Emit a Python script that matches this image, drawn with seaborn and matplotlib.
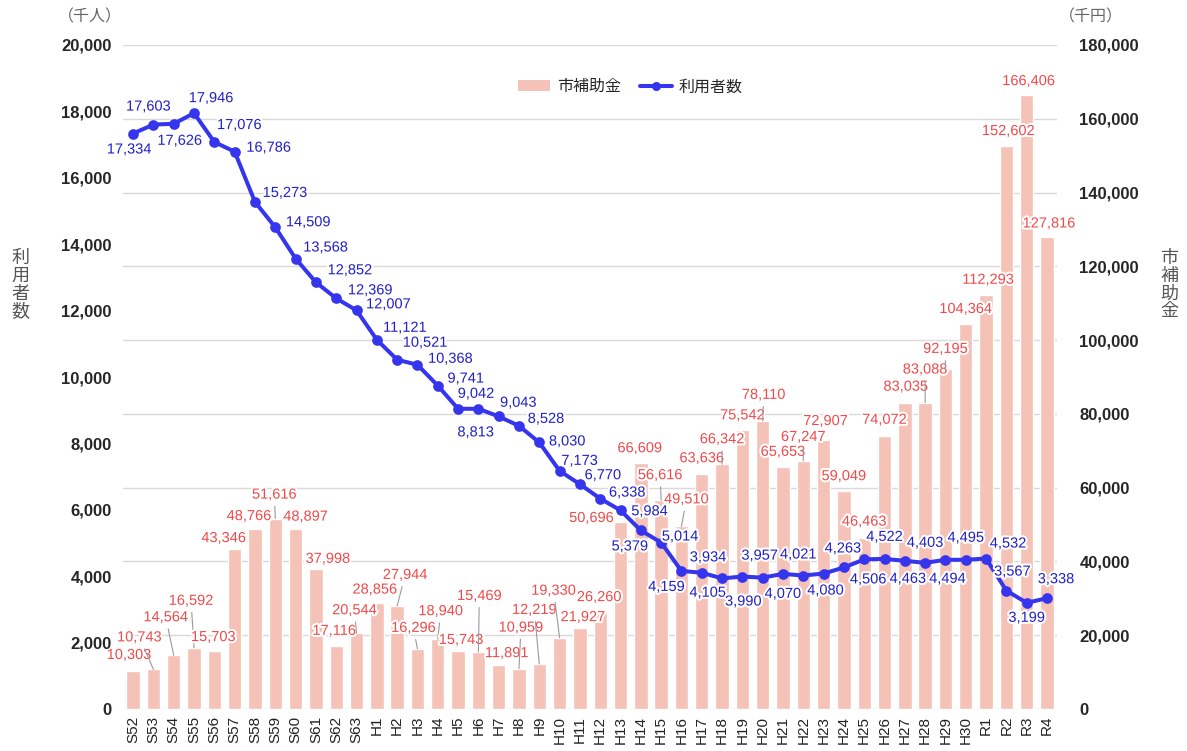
import matplotlib
matplotlib.use("Agg")
import matplotlib.pyplot as plt
import matplotlib.patheffects as pe
from matplotlib.patches import Patch
from matplotlib.lines import Line2D
import seaborn as sns

# ── Data ──────────────────────────────────────────────────────────────────
years = ["S52", "S53", "S54", "S55", "S56", "S57", "S58", "S59", "S60", "S61",
         "S62", "S63", "H1", "H2", "H3", "H4", "H5", "H6", "H7", "H8", "H9",
         "H10", "H11", "H12", "H13", "H14", "H15", "H16", "H17", "H18", "H19",
         "H20", "H21", "H22", "H23", "H24", "H25", "H26", "H27", "H28", "H29",
         "H30", "R1", "R2", "R3", "R4"]

subsidy = [10303, 10743, 14564, 16592, 15703, 43346, 48766, 51616, 48897, 37998,
           17116, 20544, 28856, 27944, 16296, 18940, 15743, 15469, 11891, 10959,
           12219, 19330, 21927, 26260, 50696, 66609, 56616, 49510, 63636, 66342,
           75542, 78110, 65653, 67247, 72907, 59049, 46463, 74072, 83035, 83088,
           92195, 104364, 112293, 152602, 166406, 127816]

users = [17334, 17603, 17626, 17946, 17076, 16786, 15273, 14509, 13568, 12852,
         12369, 12007, 11121, 10521, 10368, 9741, 9042, 9043, 8813, 8528,
         8030, 7173, 6770, 6338, 5984, 5379, 5014, 4159, 4105, 3934,
         3990, 3957, 4070, 4021, 4080, 4263, 4506, 4522, 4463, 4403,
         4494, 4495, 4532, 3567, 3199, 3338]

# label placement (pixels, image direction: +dy = down)
bar_off = [(-4, -16), (-14, -32), (-8, -38), (-3, -47), (-1, -14), (-11, -11),
           (-6, -13), (-1, -24), (10, -12), (12, -10), (-2, -15), (-2, -23),
           (-2, -13), (8, -31), (-4, -21), (3, -28), (3, -11), (1, -56),
           (8, -12), (2, -41), (-5, -54), (-6, -47), (3, -11), (-1, -15),
           (-29, -4), (-1, -15), (-1, -25), (5, -27), (0, -16), (0, -25),
           (0, -15), (1, -26), (0, -15), (0, -24), (2, -19), (0, -15),
           (0, -16), (0, -16), (1, -16), (0, -33), (0, -20), (0, -15),
           (2, -15), (2, -15), (2, -14), (2, -14)]

line_off = [(-4, 16), (-5, -18), (6, 17), (17, -15), (25, -17), (34, -4),
            (30, -9), (33, -5), (30, -11), (34, -12), (34, -8), (32, -6),
            (28, -12), (28, -17), (33, -6), (28, -7), (18, -15), (40, -6),
            (-23, 16), (27, -7), (28, -1), (20, -10), (23, -9), (27, -6),
            (29, 1), (-11, 16), (19, -6), (-15, 16), (6, 20), (-14, -21),
            (1, 25), (-3, -22), (0, 20), (-5, -21), (2, 17), (-1, -19),
            (4, 20), (0, -22), (3, 18), (0, -20), (2, 19), (0, -22),
            (22, -15), (6, -19), (0, 15), (9, -19)]

BAR_C = "#F4C2B6"
BAR_TXT = "#F04A4A"
LINE_C = "#3535EE"
LINE_TXT = "#2020C8"

sns.set_style("white")
plt.rcParams["font.family"] = ["Liberation Sans", "Noto Sans CJK JP"]

fig = plt.figure(figsize=(11.87, 7.51), dpi=100)
ax = fig.add_axes([0.1036, 0.0559, 0.787, 0.8842])
ax2 = ax.twinx()

# bars → right axis
sns.barplot(x=years, y=subsidy, ax=ax2, color=BAR_C, saturation=1,
            width=0.66, zorder=2)
ax2.set_ylim(0, 180000)
ax2.set_yticks(range(0, 180001, 20000))
ax2.set_yticklabels([f"{v:,}" for v in range(0, 180001, 20000)],
                    fontsize=12, fontweight="bold")
ax2.grid(axis="y", color="#D9D9D9", lw=1)
ax2.set_axisbelow(True)
ax2.tick_params(axis="y", length=0, pad=16)
ax2.set_ylabel("")

# line → left axis (drawn on top)
ax.set_zorder(ax2.get_zorder() + 1)
ax.patch.set_visible(False)
sns.pointplot(x=years, y=users, ax=ax, color=LINE_C, markers="o",
              linestyles="-", errorbar=None, markersize=5.5, linewidth=2.9)
ax.set_ylim(0, 20000)
ax.set_yticks(range(0, 20001, 2000))
ax.set_yticklabels([f"{v:,}" for v in range(0, 20001, 2000)],
                   fontsize=12, fontweight="bold")
ax.tick_params(axis="y", length=0, pad=8)
ax.set_xlim(-0.5, len(years) - 0.5)
ax.set_xticks(range(len(years)))
ax.set_xticklabels(years, rotation=90, fontsize=11, color="#222222")
ax.tick_params(axis="x", length=0, pad=5)
ax.set_xlabel("")
ax.set_ylabel("")
ax.grid(False)
for a in (ax, ax2):
    for s in a.spines.values():
        s.set_visible(False)

halo = [pe.withStroke(linewidth=3, foreground="white")]

for i, (v, (dx, dy)) in enumerate(zip(subsidy, bar_off)):
    arrow = None
    if abs(dy) >= 20:
        arrow = dict(arrowstyle="-", color="#9A9A9A", lw=0.8,
                     shrinkA=1, shrinkB=0)
    ax2.annotate(f"{v:,}", xy=(i, v), xytext=(dx, -dy),
                 textcoords="offset pixels", ha="center", va="center",
                 fontsize=10.5, color=BAR_TXT, path_effects=halo,
                 arrowprops=arrow, zorder=5)

for i, (v, (dx, dy)) in enumerate(zip(users, line_off)):
    ax.annotate(f"{v:,}", xy=(i, v), xytext=(dx, -dy),
                textcoords="offset pixels", ha="center", va="center",
                fontsize=10.5, color=LINE_TXT, path_effects=halo, zorder=6)

handles = [Patch(facecolor=BAR_C, edgecolor="none"),
           Line2D([], [], color=LINE_C, marker="o", lw=2.9, ms=5.5)]
ax.legend(handles, ["市補助金", "利用者数"], loc="center",
          bbox_to_anchor=(0.543, 0.937), ncol=2, frameon=False,
          fontsize=11.5, handlelength=2.0, columnspacing=1.2,
          handletextpad=0.4)

fig.text(0.076, 0.977, "（千人）", ha="center", va="center", fontsize=11.5,
         color="#666666")
fig.text(0.919, 0.977, "（千円）", ha="center", va="center", fontsize=11.5,
         color="#666666")
fig.text(0.017, 0.62, "利\n用\n者\n数", ha="center", va="center",
         fontsize=13, color="#555555", linespacing=1.05)
fig.text(0.985, 0.62, "市\n補\n助\n金", ha="center", va="center",
         fontsize=13, color="#555555", linespacing=1.05)

fig.savefig("out.png", dpi=100, facecolor="white")
